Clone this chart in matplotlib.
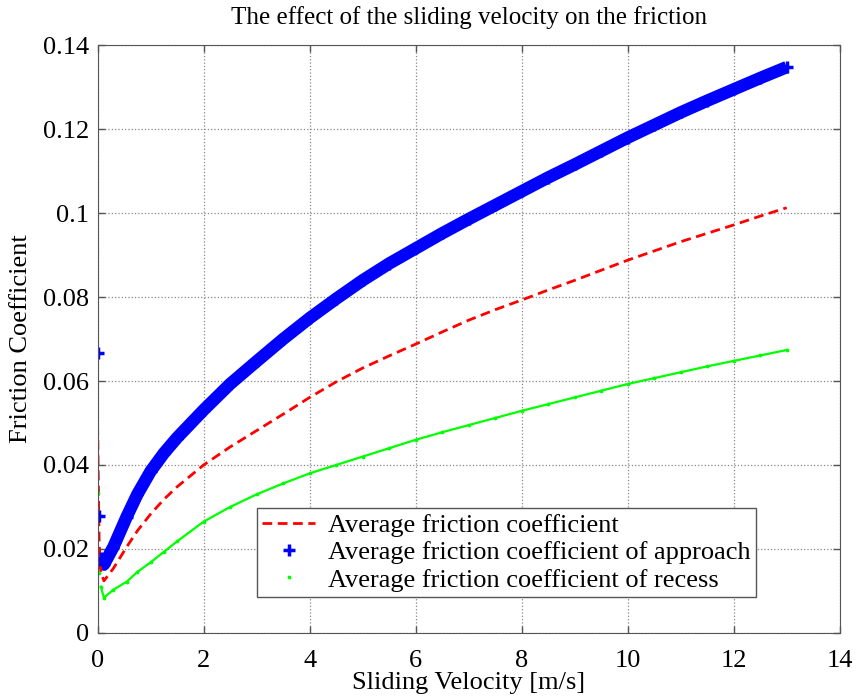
import matplotlib
matplotlib.use("Agg")
import matplotlib.pyplot as plt

plt.rcParams['font.family'] = ['Liberation Serif', 'DejaVu Serif']

# sliding velocity [m/s]
velocity = [0, 0.03, 0.06, 0.12, 0.3, 0.55, 0.75, 1.0, 1.25, 1.5, 2.0, 2.5, 3.0, 3.5,
            4.0, 4.5, 5.0, 5.5, 6.0, 6.5, 7.0, 7.5, 8.0, 8.5, 9.0, 9.5, 10.0, 10.5,
            11.0, 11.5, 12.0, 12.5, 13.0]

# friction coefficients
mu_avg = [0.0496, 0.0215, 0.0145, 0.0124, 0.0154, 0.0205, 0.0243, 0.0283, 0.0318,
          0.0348, 0.0400, 0.0443, 0.0482, 0.0521, 0.0561, 0.0598, 0.0631, 0.0660,
          0.0688, 0.0717, 0.0745, 0.0770, 0.0793, 0.0817, 0.0840, 0.0864, 0.0888,
          0.0910, 0.0932, 0.0952, 0.0972, 0.0993, 0.1013]
mu_approach = [0.0667, 0.0279, 0.0178, 0.0163, 0.0205, 0.0277, 0.0330, 0.0385, 0.0428,
               0.0465, 0.0531, 0.0593, 0.0647, 0.0700, 0.0750, 0.0796, 0.0840, 0.0880,
               0.0916, 0.0952, 0.0986, 0.1019, 0.1052, 0.1085, 0.1116, 0.1148, 0.1180,
               0.1210, 0.1240, 0.1268, 0.1295, 0.1322, 0.1348]
mu_recess = [0.0333, 0.0142, 0.0110, 0.0084, 0.0103, 0.0122, 0.0145, 0.0168, 0.0193,
             0.0218, 0.0265, 0.0300, 0.0330, 0.0356, 0.0380, 0.0400, 0.0420, 0.0440,
             0.0460, 0.0478, 0.0495, 0.0512, 0.0529, 0.0545, 0.0561, 0.0577, 0.0593,
             0.0607, 0.0621, 0.0635, 0.0648, 0.0661, 0.0674]

fig = plt.figure(figsize=(8.56, 6.97), dpi=100)
ax = fig.add_axes([0.114, 0.092, 0.867, 0.843])

# dense marker band (approach) and dotted trail (recess)
ax.plot(velocity[2:], mu_approach[2:], color='#0000ff', lw=9, solid_capstyle='butt',
        solid_joinstyle='round', label='_nolegend_')
ax.plot(velocity[2:], mu_recess[2:], color='#00ff00', lw=1.6, label='_nolegend_')

ax.plot(velocity, mu_avg, color='#ff0000', lw=2.0, ls='--', dashes=(3.5, 2),
        label='Average friction coefficient')
ax.plot(velocity, mu_approach, ls='none', marker='+', color='#0000ff', ms=8, mew=2.5,
        label='Average friction coefficient of approach')
ax.plot(velocity, mu_recess, ls='none', marker='.', color='#00ff00', ms=3.5,
        label='Average friction coefficient of recess')

ax.set_xlim(0, 14)
ax.set_ylim(0, 0.14)
ax.set_xticks(range(0, 15, 2))
ax.set_yticks([0, 0.02, 0.04, 0.06, 0.08, 0.1, 0.12, 0.14])
ax.set_yticklabels(['0', '0.02', '0.04', '0.06', '0.08', '0.1', '0.12', '0.14'])
ax.tick_params(direction='in', top=True, right=True, labelsize=19, length=5, width=1,
               color='#555555', pad=6)
ax.tick_params(axis='x', pad=12)
ax.grid(True, ls=':', color='#888888', lw=0.9)
for s in ax.spines.values():
    s.set_color('#555555')

ax.set_title('The effect of the sliding velocity on the friction', fontsize=18, pad=15)
ax.set_xlabel('Sliding Velocity [m/s]', fontsize=19, labelpad=0)
ax.set_ylabel('Friction Coefficient', fontsize=19, labelpad=8)

leg = ax.legend(loc='lower left', bbox_to_anchor=(0.2147, 0.0612), borderaxespad=0,
                fontsize=19, fancybox=False, framealpha=1, edgecolor='#555555',
                handlelength=2.0, labelspacing=0.15, handletextpad=0.5, borderpad=0.2)
leg.get_frame().set_linewidth(1.0)

fig.savefig('out.png', dpi=100)
